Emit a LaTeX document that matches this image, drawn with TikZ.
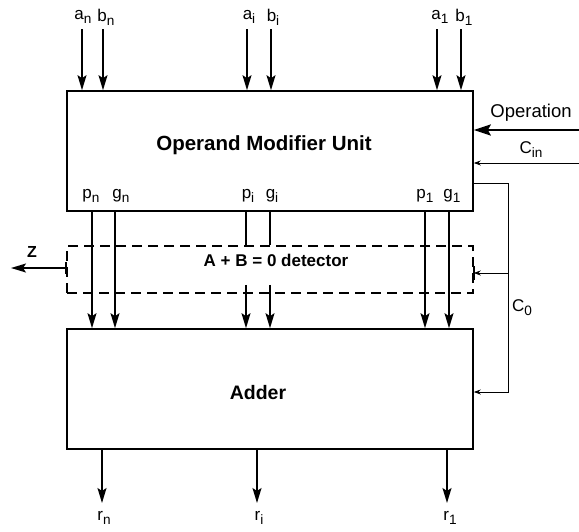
\documentclass[tikz,border=0pt]{standalone}
\usepackage{fontspec}
\setmainfont{Liberation Sans}
\usetikzlibrary{arrows.meta}

% lowered index, a little larger than \textsubscript
\newcommand{\idx}[1]{\raisebox{-0.45ex}{\scalebox{0.8}{#1}}}

\begin{document}
\begin{tikzpicture}[
  x=1pt, y=-1pt,
  box/.style={draw, line width=1.6pt, minimum width=406pt, inner sep=0pt},
  dbox/.style={draw, line width=1.5pt, dash pattern=on 10pt off 6pt,
               minimum width=406pt, minimum height=47pt, inner sep=0pt},
  sig/.style={-{Stealth[length=15pt, width=9pt, inset=3pt]}, line width=1.6pt},
  bar/.style={line width=1.6pt},
  opsig/.style={-{Stealth[length=17pt, width=11pt, inset=3pt]}, line width=2.4pt},
  ctl/.style={-{Stealth[length=7pt, width=5pt]}, line width=0.9pt},
  lbl/.style={font=\fontsize{17}{20}\selectfont, inner sep=1pt},
  title/.style={font=\fontsize{20.5}{24}\selectfont\bfseries, inner sep=1pt},
  dtitle/.style={font=\fontsize{17}{20}\selectfont\bfseries, inner sep=1pt},
]
\useasboundingbox (0,0) rectangle (579,531);

% --- blocks ---
\node[box, minimum height=120pt] (omu) at (270,151) {};
\node[dbox] (det) at (270,269.5) {};
\node[box, minimum height=120pt] (adder) at (270,389) {};

\node[title] (omu-t) at (264,145) {Operand Modifier Unit};
\node[dtitle] (det-t) at (276,260) {A + B = 0 detector};
\node[title, font=\fontsize{19.5}{23}\selectfont\bfseries] (adder-t) at (258,393) {Adder};

% --- operand inputs ---
\node[lbl] (an-l) at (83,17) {a\idx{n}};
\node[lbl] (bn-l) at (106,17) {b\idx{n}};
\node[lbl] (ai-l) at (249,17) {a\idx{i}};
\node[lbl] (bi-l) at (273,17) {b\idx{i}};
\node[lbl] (a1-l) at (440,17) {a\idx{1}};
\node[lbl] (b1-l) at (464,17) {b\idx{1}};

\coordinate (an) at (82,29);
\coordinate (bn) at (103,29);
\coordinate (ai) at (247,29);
\coordinate (bi) at (271,29);
\coordinate (a1) at (437,29);
\coordinate (b1) at (461,29);

\draw[sig] (an) -- (an |- omu.north);
\draw[sig] (bn) -- (bn |- omu.north);
\draw[sig] (ai) -- (ai |- omu.north);
\draw[sig] (bi) -- (bi |- omu.north);
\draw[sig] (a1) -- (a1 |- omu.north);
\draw[sig] (b1) -- (b1 |- omu.north);

% --- control inputs ---
\coordinate (op) at (579,130);
\coordinate (cin) at (579,163);
\node[lbl, font=\fontsize{18.5}{22}\selectfont] (op-l) at (531,113) {Operation};
\node[lbl] (cin-l) at (531,150) {C\idx{in}};
\draw[opsig] (op) -- (op -| omu.east);
\draw[ctl] (cin) -- (cin -| omu.east);

% --- propagate / generate ---
\node[lbl] (pn-l) at (91,196) {p\idx{n}};
\node[lbl] (gn-l) at (121,196) {g\idx{n}};
\node[lbl] (pi-l) at (248,196) {p\idx{i}};
\node[lbl] (gi-l) at (272,196) {g\idx{i}};
\node[lbl] (p1-l) at (425,196) {p\idx{1}};
\node[lbl] (g1-l) at (452,196) {g\idx{1}};

\coordinate (pn) at (92,211);
\coordinate (gn) at (115,211);
\coordinate (pi) at (246,211);
\coordinate (gi) at (270,211);
\coordinate (p1) at (425,211);
\coordinate (g1) at (449,211);

\draw[sig] (pn) -- (pn |- adder.north);
\draw[sig] (gn) -- (gn |- adder.north);
\draw[bar] (pi) -- (pi |- det.north);
\draw[bar] (gi) -- (gi |- det.north);
\draw[sig] ([yshift=9pt]pi |- det.south) -- (pi |- adder.north);
\draw[sig] ([yshift=9pt]gi |- det.south) -- (gi |- adder.north);
\draw[sig] (p1) -- (p1 |- adder.north);
\draw[sig] (g1) -- (g1 |- adder.north);

% --- zero flag ---
\coordinate (z) at (11,268);
\node[lbl, font=\fontsize{16}{19}\selectfont\bfseries] (z-l) at (32,252) {Z};
\draw[sig] (z -| det.west) -- (z);
\draw[bar] ([yshift=6pt]z -| det.west) -- ([yshift=-6pt]z -| det.west);

% --- carry C0 ---
\coordinate (c0a) at (508,183);
\coordinate (c0m) at (508,273);
\coordinate (c0b) at (508,392);
\node[lbl] (c0-l) at (522,308) {C\idx{0}};
\draw[ctl] (c0a -| omu.east) -- (c0a) -- (c0b) -- (c0b -| adder.east);
\draw[ctl] (c0m) -- (c0m -| det.east);
\draw[bar] ([yshift=7pt]c0m -| det.east) -- ([yshift=-7pt]c0m -| det.east);

% --- results ---
\node[lbl] (rn-l) at (104,518) {r\idx{n}};
\node[lbl] (ri-l) at (259,518) {r\idx{i}};
\node[lbl] (r1-l) at (450,518) {r\idx{1}};

\coordinate (rn) at (102,503);
\coordinate (ri) at (257,503);
\coordinate (r1) at (447,503);

\draw[sig] (rn |- adder.south) -- (rn);
\draw[sig] (ri |- adder.south) -- (ri);
\draw[sig] (r1 |- adder.south) -- (r1);

\end{tikzpicture}
\end{document}
